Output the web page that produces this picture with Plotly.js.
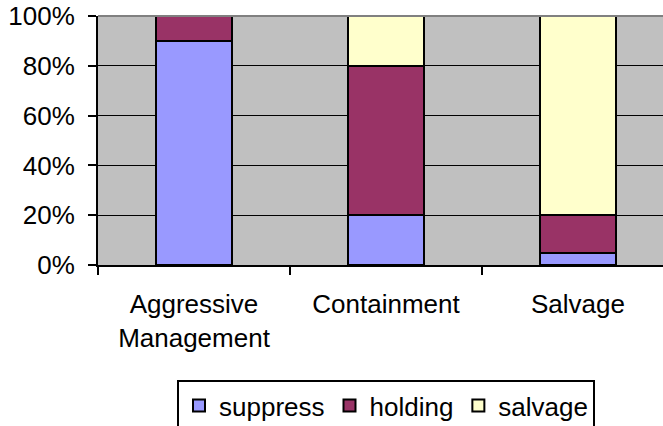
<!DOCTYPE html>
<html><head><meta charset="utf-8">
<script src="https://cdn.plot.ly/plotly-3.0.1.min.js"></script>
<style>html,body{margin:0;padding:0;overflow:hidden;background:#fff;}#chart{width:676px;height:450px;}</style>
</head><body><div id="chart"></div>
<script>
const categories = ["Aggressive<br>Management", "Containment", "Salvage"];
const seriesNames = ["suppress", "holding", "salvage"];
const suppress = [90, 20, 5];
const holding = [10, 60, 15];
const salvage = [0, 20, 80];
const yTickVals = [0, 20, 40, 60, 80, 100];
const yTickText = ["0%", "20%", "40%", "60%", "80%", "100%"];
const colors = ["#9999FF", "#993366", "#FFFFCC"];

const values = [suppress, holding, salvage];
const traces = values.map((v, i) => ({
  type: "bar", name: seriesNames[i], x: categories, y: v,
  marker: {color: colors[i], line: {color: "#000", width: 2}},
  width: 0.4, hoverinfo: "skip"
}));

const font = {family: "Liberation Sans, Arial, sans-serif", size: 26, color: "#000"};
const layout = {
  width: 676, height: 450,
  margin: {l: 98, r: 2, t: 16, b: 185},
  barmode: "stack",
  paper_bgcolor: "#fff", plot_bgcolor: "#C0C0C0",
  font: font,
  showlegend: true,
  legend: {orientation: "h", x: 0.5, xanchor: "center", y: -0.462, yanchor: "top",
    bordercolor: "#000", borderwidth: 2, font: font, traceorder: "normal"},
  xaxis: {type: "category", tickson: "boundaries", ticks: "outside", ticklen: 8, tickwidth: 2,
    tickcolor: "#000", showline: true, linecolor: "#000", linewidth: 2, showgrid: false,
    ticklabelstandoff: 15, tickfont: font, zeroline: false},
  yaxis: {range: [0, 100], tickvals: yTickVals, ticktext: yTickText, ticks: "outside", ticklen: 8,
    tickwidth: 2, tickcolor: "#000", showline: true, linecolor: "#000", linewidth: 2,
    showgrid: true, gridcolor: "#000", gridwidth: 1, zeroline: false, tickfont: font,
    ticklabelstandoff: 8},
  shapes: [{type: "line", xref: "paper", yref: "paper", x0: 0, x1: 1, y0: 1, y1: 1,
    line: {color: "#808080", width: 2}, layer: "above"}]
};
Plotly.newPlot("chart", traces, layout, {displayModeBar: false, staticPlot: true});
</script></body></html>
